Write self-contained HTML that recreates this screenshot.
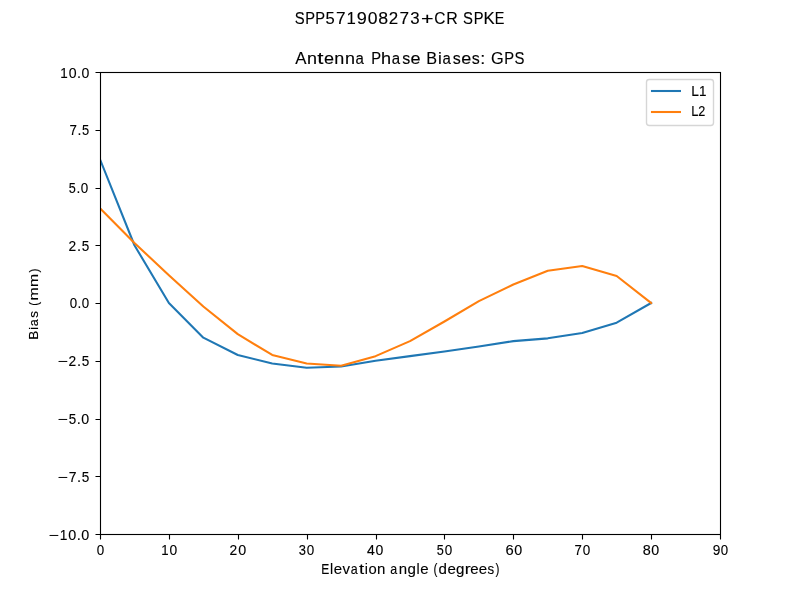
<!DOCTYPE html><html><head><meta charset="utf-8"><style>html,body{margin:0;padding:0;background:#fff;width:800px;height:600px;overflow:hidden}svg{display:block;will-change:transform}text{font-family:"Liberation Sans",sans-serif;fill:#000;stroke:#000;stroke-width:0.12px}</style></head><body>
<svg width="800" height="600" viewBox="0 0 800 600">
<rect x="0" y="0" width="800" height="600" fill="#fff"/>
<defs><clipPath id="ax"><rect x="100" y="72" width="620" height="462"/></clipPath></defs>
<polyline points="100.00,159.32 134.44,245.25 168.89,303.00 203.33,337.65 237.78,354.98 272.22,363.52 306.67,367.68 341.11,366.52 375.56,360.75 410.00,356.13 444.44,351.51 478.89,346.43 513.33,341.12 547.78,338.34 582.22,333.03 616.67,322.63 651.11,303.00" fill="none" stroke="#1f77b4" stroke-width="2.083" stroke-linejoin="round" stroke-linecap="square" clip-path="url(#ax)"/>
<polyline points="100.00,208.29 134.44,242.94 168.89,275.28 203.33,306.47 237.78,334.18 272.22,354.98 306.67,363.52 341.11,365.83 375.56,356.13 410.00,341.12 444.44,321.48 478.89,301.15 513.33,284.52 547.78,270.66 582.22,266.04 616.67,275.97 651.11,303.00" fill="none" stroke="#ff7f0e" stroke-width="2.083" stroke-linejoin="round" stroke-linecap="square" clip-path="url(#ax)"/>
<rect x="100.5" y="72.5" width="620" height="462" fill="none" stroke="#000" stroke-width="1.111"/>
<path d="M100.5 534.5V539.5 M169.5 534.5V539.5 M238.5 534.5V539.5 M307.5 534.5V539.5 M376.5 534.5V539.5 M444.5 534.5V539.5 M513.5 534.5V539.5 M582.5 534.5V539.5 M651.5 534.5V539.5 M720.5 534.5V539.5 M100.5 72.5H95.5 M100.5 130.5H95.5 M100.5 188.5H95.5 M100.5 245.5H95.5 M100.5 303.5H95.5 M100.5 361.5H95.5 M100.5 419.5H95.5 M100.5 476.5H95.5 M100.5 534.5H95.5" stroke="#000" stroke-width="1.111" fill="none"/>
<rect x="646.5" y="79.5" width="67" height="46" rx="2.78" ry="2.78" fill="#fff" fill-opacity="0.8" stroke="#ccc" stroke-opacity="0.8" stroke-width="1.389"/>
<line x1="652" y1="91" x2="679.95" y2="91" stroke="#1f77b4" stroke-width="2.083" stroke-linecap="square"/>
<line x1="652" y1="112" x2="679.95" y2="112" stroke="#ff7f0e" stroke-width="2.083" stroke-linecap="square"/>
<text transform="translate(96.777 554.561) scale(0.9650 1)" font-size="13.873">0</text>
<text transform="translate(161.293 554.561) scale(0.9533 1)" font-size="13.873">1</text>
<text transform="translate(169.540 554.561) scale(0.9981 1)" font-size="13.873">0</text>
<text transform="translate(229.605 554.561) scale(0.9957 1)" font-size="13.873">2</text>
<text transform="translate(238.290 554.561) scale(1.0330 1)" font-size="13.873">0</text>
<text transform="translate(298.809 554.561) scale(0.9300 1)" font-size="13.873">3</text>
<text transform="translate(306.753 554.561) scale(0.9684 1)" font-size="13.873">0</text>
<text transform="translate(366.978 554.561) scale(1.0113 1)" font-size="13.873">4</text>
<text transform="translate(375.446 554.561) scale(1.0112 1)" font-size="13.873">0</text>
<text transform="translate(436.792 554.561) scale(0.9147 1)" font-size="13.873">5</text>
<text transform="translate(444.747 554.561) scale(0.9692 1)" font-size="13.873">0</text>
<text transform="translate(505.549 554.561) scale(1.0659 1)" font-size="13.873">6</text>
<text transform="translate(514.312 554.561) scale(1.0298 1)" font-size="13.873">0</text>
<text transform="translate(574.623 554.561) scale(0.9522 1)" font-size="13.873">7</text>
<text transform="translate(582.717 554.561) scale(0.9734 1)" font-size="13.873">0</text>
<text transform="translate(642.673 554.561) scale(1.0392 1)" font-size="13.873">8</text>
<text transform="translate(651.325 554.561) scale(1.0281 1)" font-size="13.873">0</text>
<text transform="translate(712.657 554.561) scale(0.9887 1)" font-size="13.873">9</text>
<text transform="translate(720.833 554.561) scale(0.9572 1)" font-size="13.873">0</text>
<text transform="translate(48.434 539.561) scale(1.2652 1)" font-size="13.873">−</text>
<text transform="translate(59.723 539.561) scale(0.9887 1)" font-size="13.873">1</text>
<text transform="translate(68.276 539.561) scale(1.0352 1)" font-size="13.873">0</text>
<text transform="translate(76.717 539.561) scale(1.0626 1)" font-size="13.873">.</text>
<text transform="translate(81.274 539.561) scale(1.0352 1)" font-size="13.873">0</text>
<text transform="translate(57.436 481.559) scale(1.2455 1)" font-size="14.071">−</text>
<text transform="translate(68.653 481.559) scale(0.9968 1)" font-size="14.071">7</text>
<text transform="translate(77.021 481.559) scale(1.0460 1)" font-size="14.071">.</text>
<text transform="translate(81.742 481.559) scale(0.9617 1)" font-size="14.071">5</text>
<text transform="translate(57.444 423.561) scale(1.2516 1)" font-size="13.873">−</text>
<text transform="translate(68.666 423.561) scale(0.9664 1)" font-size="13.873">5</text>
<text transform="translate(76.847 423.561) scale(1.0511 1)" font-size="13.873">.</text>
<text transform="translate(81.354 423.561) scale(1.0240 1)" font-size="13.873">0</text>
<text transform="translate(57.436 365.561) scale(1.2633 1)" font-size="13.873">−</text>
<text transform="translate(68.557 365.561) scale(0.9963 1)" font-size="13.873">2</text>
<text transform="translate(77.021 365.561) scale(1.0609 1)" font-size="13.873">.</text>
<text transform="translate(81.742 365.561) scale(0.9754 1)" font-size="13.873">5</text>
<text transform="translate(69.780 307.561) scale(0.9589 1)" font-size="13.873">0</text>
<text transform="translate(77.600 307.561) scale(0.9843 1)" font-size="13.873">.</text>
<text transform="translate(81.821 307.561) scale(0.9589 1)" font-size="13.873">0</text>
<text transform="translate(68.607 250.561) scale(0.9938 1)" font-size="13.873">2</text>
<text transform="translate(77.050 250.561) scale(1.0584 1)" font-size="13.873">.</text>
<text transform="translate(81.759 250.561) scale(0.9731 1)" font-size="13.873">5</text>
<text transform="translate(68.793 192.561) scale(0.9120 1)" font-size="13.873">5</text>
<text transform="translate(76.514 192.561) scale(0.9919 1)" font-size="13.873">.</text>
<text transform="translate(80.768 192.561) scale(0.9664 1)" font-size="13.873">0</text>
<text transform="translate(69.615 134.559) scale(0.9489 1)" font-size="14.071">7</text>
<text transform="translate(77.582 134.559) scale(0.9958 1)" font-size="14.071">.</text>
<text transform="translate(82.076 134.559) scale(0.9155 1)" font-size="14.071">5</text>
<text transform="translate(60.275 77.561) scale(0.9698 1)" font-size="13.873">1</text>
<text transform="translate(68.665 77.561) scale(1.0154 1)" font-size="13.873">0</text>
<text transform="translate(76.946 77.561) scale(1.0423 1)" font-size="13.873">.</text>
<text transform="translate(81.416 77.561) scale(1.0154 1)" font-size="13.873">0</text>
<text transform="translate(321.311 573.690) scale(0.8415 1)" font-size="14.332">E</text>
<text transform="translate(330.079 573.690) scale(0.9925 1)" font-size="14.332">l</text>
<text transform="translate(333.722 573.690) scale(1.0487 1)" font-size="14.332">e</text>
<text transform="translate(342.517 573.690) scale(1.0479 1)" font-size="14.332">v</text>
<text transform="translate(350.693 573.690) scale(0.8731 1)" font-size="14.332">a</text>
<text transform="translate(359.008 573.690) scale(1.2977 1)" font-size="14.332">t</text>
<text transform="translate(364.732 573.690) scale(0.9925 1)" font-size="14.332">i</text>
<text transform="translate(368.385 573.690) scale(1.0322 1)" font-size="14.332">o</text>
<text transform="translate(377.019 573.690) scale(1.0468 1)" font-size="14.332">n</text>
<text transform="translate(390.298 573.690) scale(0.8731 1)" font-size="14.332">a</text>
<text transform="translate(398.789 573.690) scale(1.0468 1)" font-size="14.332">n</text>
<text transform="translate(407.473 573.690) scale(1.0553 1)" font-size="14.332">g</text>
<text transform="translate(416.526 573.690) scale(0.9925 1)" font-size="14.332">l</text>
<text transform="translate(420.169 573.690) scale(1.0487 1)" font-size="14.332">e</text>
<text transform="translate(433.490 573.690) scale(0.8207 1)" font-size="14.332">(</text>
<text transform="translate(438.585 573.690) scale(1.0553 1)" font-size="14.332">d</text>
<text transform="translate(447.415 573.690) scale(1.0487 1)" font-size="14.332">e</text>
<text transform="translate(455.979 573.690) scale(1.0553 1)" font-size="14.332">g</text>
<text transform="translate(464.760 573.690) scale(1.2440 1)" font-size="14.332">r</text>
<text transform="translate(470.224 573.690) scale(1.0487 1)" font-size="14.332">e</text>
<text transform="translate(478.785 573.690) scale(1.0487 1)" font-size="14.332">e</text>
<text transform="translate(487.600 573.690) scale(0.9307 1)" font-size="14.332">s</text>
<text transform="translate(495.512 573.690) scale(0.8207 1)" font-size="14.332">)</text>
<text transform="translate(691.172 95.700) scale(0.9629 1)" font-size="14.275">L</text>
<text transform="translate(698.876 95.700) scale(0.9423 1)" font-size="14.275">1</text>
<text transform="translate(691.248 115.700) scale(0.9110 1)" font-size="14.071">L</text>
<text transform="translate(698.295 115.700) scale(0.8998 1)" font-size="14.071">2</text>
<text transform="translate(294.626 23.539) scale(0.9248 1)" font-size="16.056">S</text>
<text transform="translate(305.202 23.539) scale(0.9175 1)" font-size="16.056">P</text>
<text transform="translate(315.246 23.539) scale(0.9175 1)" font-size="16.056">P</text>
<text transform="translate(325.486 23.539) scale(1.0321 1)" font-size="16.056">5</text>
<text transform="translate(335.948 23.539) scale(1.0697 1)" font-size="16.056">7</text>
<text transform="translate(346.613 23.539) scale(1.0445 1)" font-size="16.056">1</text>
<text transform="translate(356.857 23.539) scale(1.1295 1)" font-size="16.056">9</text>
<text transform="translate(367.668 23.539) scale(1.0936 1)" font-size="16.056">0</text>
<text transform="translate(378.212 23.539) scale(1.1054 1)" font-size="16.056">8</text>
<text transform="translate(388.820 23.539) scale(1.0541 1)" font-size="16.056">2</text>
<text transform="translate(399.534 23.539) scale(1.0697 1)" font-size="16.056">7</text>
<text transform="translate(410.273 23.539) scale(1.0502 1)" font-size="16.056">3</text>
<text transform="translate(420.961 23.539) scale(1.3366 1)" font-size="16.056">+</text>
<text transform="translate(434.351 23.539) scale(0.9630 1)" font-size="16.056">C</text>
<text transform="translate(446.159 23.539) scale(0.9922 1)" font-size="16.056">R</text>
<text transform="translate(463.124 23.539) scale(0.9248 1)" font-size="16.056">S</text>
<text transform="translate(473.700 23.539) scale(0.9175 1)" font-size="16.056">P</text>
<text transform="translate(483.575 23.539) scale(1.0462 1)" font-size="16.056">K</text>
<text transform="translate(494.692 23.539) scale(0.8991 1)" font-size="16.056">E</text>
<text transform="translate(295.267 63.539) scale(1.0443 1)" font-size="16.122">A</text>
<text transform="translate(306.925 63.539) scale(1.1177 1)" font-size="16.122">n</text>
<text transform="translate(317.307 63.539) scale(1.3856 1)" font-size="16.122">t</text>
<text transform="translate(323.905 63.539) scale(1.1198 1)" font-size="16.122">e</text>
<text transform="translate(334.354 63.539) scale(1.1177 1)" font-size="16.122">n</text>
<text transform="translate(344.948 63.539) scale(1.1177 1)" font-size="16.122">n</text>
<text transform="translate(355.585 63.539) scale(0.9322 1)" font-size="16.122">a</text>
<text transform="translate(371.203 63.539) scale(0.9169 1)" font-size="16.122">P</text>
<text transform="translate(381.114 63.539) scale(1.1255 1)" font-size="16.122">h</text>
<text transform="translate(391.813 63.539) scale(0.9322 1)" font-size="16.122">a</text>
<text transform="translate(402.150 63.539) scale(0.9937 1)" font-size="16.122">s</text>
<text transform="translate(410.553 63.539) scale(1.1198 1)" font-size="16.122">e</text>
<text transform="translate(426.302 63.539) scale(1.0072 1)" font-size="16.122">B</text>
<text transform="translate(437.893 63.539) scale(1.0597 1)" font-size="16.122">i</text>
<text transform="translate(442.469 63.539) scale(0.9322 1)" font-size="16.122">a</text>
<text transform="translate(452.806 63.539) scale(0.9937 1)" font-size="16.122">s</text>
<text transform="translate(461.210 63.539) scale(1.1198 1)" font-size="16.122">e</text>
<text transform="translate(471.798 63.539) scale(0.9937 1)" font-size="16.122">s</text>
<text transform="translate(480.353 63.539) scale(1.1218 1)" font-size="16.122">:</text>
<text transform="translate(491.108 63.539) scale(1.0111 1)" font-size="16.122">G</text>
<text transform="translate(504.369 63.539) scale(0.9169 1)" font-size="16.122">P</text>
<text transform="translate(514.446 63.539) scale(0.9242 1)" font-size="16.122">S</text>
<g transform="translate(37.570 338.700) rotate(-90)">
<text transform="translate(-1.115 0.000) scale(1.0088 1)" font-size="13.476">B</text>
<text transform="translate(8.588 0.000) scale(1.0614 1)" font-size="13.476">i</text>
<text transform="translate(12.419 0.000) scale(0.9337 1)" font-size="13.476">a</text>
<text transform="translate(21.073 0.000) scale(0.9953 1)" font-size="13.476">s</text>
<text transform="translate(32.894 0.000) scale(0.8777 1)" font-size="13.476">(</text>
<text transform="translate(38.096 0.000) scale(1.1830 1)" font-size="13.476">m</text>
<text transform="translate(51.726 0.000) scale(1.1830 1)" font-size="13.476">m</text>
<text transform="translate(66.195 0.000) scale(0.8777 1)" font-size="13.476">)</text>
</g>
</svg></body></html>
